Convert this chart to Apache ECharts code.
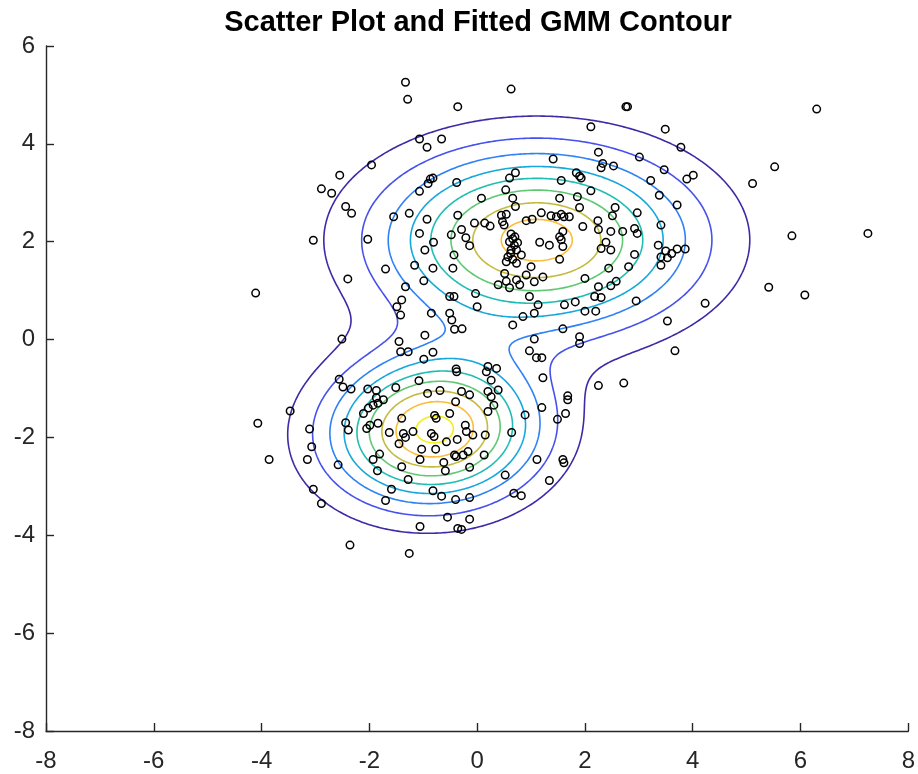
<!DOCTYPE html>
<html><head><meta charset="utf-8">
<script src="https://cdn.jsdelivr.net/npm/echarts/dist/echarts.min.js"></script>
<style>html,body{margin:0;padding:0;background:#fff}#chart{width:918px;height:774px}</style>
</head><body><div id="chart"></div>
<script>
const chartTitle = 'Scatter Plot and Fitted GMM Contour';
const xTickRange = [-8, 8, 2];
const yTickRange = [-8, 6, 2];

const pointsX = [
-1.33,-1.29,-0.36,-1.07,-0.66,-0.93,-1.96,-2.55,-2.89,-2.70,-2.44,-2.33,-0.87,-0.82,-0.91,-1.07,-0.38,-1.55,-1.26,-0.93,-1.07,-0.36,-0.48,-3.04,-2.03,
0.63,2.79,2.76,2.11,3.49,2.25,3.01,1.41,2.33,2.30,2.53,3.47,0.71,0.60,1.56,1.84,1.90,1.93,3.22,2.11,3.38,0.53,0.08,0.66,1.53,1.86,0.71,1.90,2.56,2.97,
0.45,0.54,1.19,1.37,1.56,1.61,1.71,2.24,2.51,-0.05,0.14,0.24,0.50,0.91,1.02,1.47,1.96,2.25,2.48,2.70,2.92,2.97,3.41,-0.29,0.63,1.59,-0.21,
6.30,3.78,5.52,5.11,4.01,3.89,3.71,5.84,7.25,
3.86,3.71,3.61,3.50,3.53,5.41,6.08,4.23,3.53,3.67,
-4.11,-2.40,-1.70,-2.51,-1.33,-1.40,-1.49,-1.42,-1.16,-0.99,-0.97,-0.81,-0.82,-0.43,-0.45,-0.51,-0.43,-0.51,-0.47,-0.42,-0.85,-0.97,-1.45,-1.42,-1.28,
-0.82,-0.99,-0.38,-2.56,-2.49,-2.34,-2.03,-1.87,-1.51,-1.08,-0.92,-0.69,-1.87,-1.74,-0.40,
-0.14,0.66,0.69,0.63,0.73,0.57,0.66,0.54,0.73,0.82,1.00,1.16,1.34,1.56,1.59,1.53,2.39,2.48,2.30,3.36,3.41,2.92,2.81,2.44,2.00,2.25,2.48,2.58,2.18,2.30,2.95,
0.51,0.39,0.54,0.60,0.73,0.79,0.91,1.06,1.22,0.97,1.13,1.06,0.85,0.66,1.62,1.82,2.00,2.20,-0.03,0.00,-0.28,1.59,1.90,1.90,1.06,0.97,1.10,1.20,1.22,1.68,2.25,2.72,
0.20,0.36,0.17,0.26,-0.29,0.20,0.39,0.26,
0.47,0.60,0.70,0.75,0.62,1.53,3.41,
-3.47,-4.07,-3.86,-3.11,-3.07,-3.15,-3.04,-2.89,-2.36,-1.26,-1.06,-0.55,-1.70,-1.59,-1.28,-1.40,-1.85,-2.58,-1.93,-1.81,-2.44,-2.39,-2.05,-1.99,-1.84,
-2.11,-2.02,-1.93,-1.84,-1.63,-1.40,-1.37,-1.33,-1.45,-1.19,-1.03,-1.06,-0.79,-0.76,-0.85,-0.80,-0.77,-0.57,-0.51,-0.37,-0.42,-0.62,-0.59,-0.82,-0.66,-0.40,-0.36,
0.31,0.20,1.20,0.89,1.64,1.49,1.68,-0.22,-0.20,-0.08,0.15,0.64,-0.17,-0.26,0.13,-0.39,-0.14,1.11,1.59,1.61,1.34,0.52,-0.14,0.68,0.82,-0.14,-0.29,
-0.39,-0.14
];
const pointsY = [
5.26,4.91,4.76,4.10,4.10,3.93,3.57,3.36,3.08,2.99,2.72,2.58,3.28,3.30,3.19,3.03,3.21,2.51,2.58,2.46,2.17,2.54,2.14,2.03,2.05,
5.12,4.76,4.76,4.35,4.30,3.83,3.73,3.69,3.60,3.51,3.55,3.47,3.41,3.30,3.25,3.41,3.34,3.30,3.25,3.04,2.95,3.06,2.89,2.89,2.89,2.92,2.72,2.70,2.70,2.59,
2.54,2.56,2.59,2.53,2.56,2.51,2.51,2.43,2.53,2.38,2.38,2.32,2.34,2.43,2.46,2.51,2.31,2.25,2.21,2.21,2.27,2.17,2.34,2.25,2.16,2.21,2.08,
4.71,3.93,3.53,3.19,3.36,3.28,2.75,2.12,2.17,
1.85,1.85,1.76,1.81,1.67,1.07,0.91,0.74,0.38,-0.23,
0.95,1.24,1.44,0.01,1.08,0.81,0.67,0.50,1.52,1.20,1.83,1.99,1.46,1.73,1.46,0.88,0.88,0.54,0.40,0.21,0.54,0.09,-0.04,-0.25,-0.25,
-0.26,-0.40,-0.66,-0.81,-0.97,-1.01,-1.01,-1.04,-0.98,-0.84,-1.10,-1.04,-1.19,-1.23,-1.27,
1.92,2.06,1.93,1.83,1.83,1.69,1.64,1.59,1.56,1.73,1.49,1.99,1.93,2.04,1.90,1.64,1.99,1.83,1.86,1.93,1.69,1.74,1.49,1.46,1.25,1.08,1.10,1.19,0.88,0.86,0.79,
1.35,1.12,1.19,1.06,1.22,1.12,1.32,1.18,1.28,0.88,0.71,0.54,0.47,0.30,0.71,0.77,0.58,0.58,0.94,0.67,0.22,0.22,0.06,-0.08,0.01,-0.23,-0.37,-0.37,-0.78,-1.15,-0.94,-0.89,
-0.55,-0.59,-0.66,-0.83,-1.06,-1.06,-1.03,-1.17,
2.41,2.00,2.10,1.98,1.76,2.10,1.52,
-1.46,-1.71,-2.45,-1.83,-2.19,-2.45,-3.06,-3.35,-4.20,-4.37,-3.82,-3.63,-3.29,-3.06,-2.86,-2.60,-2.68,-2.56,-2.45,-2.34,-1.70,-1.85,-1.82,-1.75,-1.71,
-1.51,-1.40,-1.34,-1.30,-1.90,-1.61,-1.92,-2.00,-2.13,-1.88,-2.24,-2.45,-1.55,-1.61,-1.92,-1.98,-2.24,-2.09,-1.51,-2.04,-2.36,-2.51,-2.68,-3.09,-3.20,-3.27,-3.86,
-1.34,-1.47,-1.39,-1.54,-1.51,-1.63,-1.23,-1.75,-1.88,-1.95,-1.95,-1.90,-2.29,-2.36,-2.36,-2.39,-2.61,-2.45,-2.45,-2.52,-2.88,-2.77,-3.23,-3.14,-3.19,-3.67,-3.88,
-0.60,-1.13
];

// Fitted two-component Gaussian mixture
const mixWeights = [0.624, 0.376];
const meanX = [1.107, -0.793];
const meanY = [2.035, -1.848];
const varX = [3.65, 1.66];
const varY = [1.50, 1.00];
const covXY = [0, 0.06];
const contourLevels = [0.005, 0.010, 0.015, 0.020, 0.025, 0.030, 0.035, 0.040, 0.045];

const levelColors = ['#3E2AA6', '#4651EE', '#2E82F6', '#16A8DC', '#20BDB2', '#5EC872', '#C4BC40', '#FABE3C', '#F5EE1A'];

function gmmPdf(x, y) {
  let s = 0;
  for (let k = 0; k < mixWeights.length; k++) {
    const dx = x - meanX[k], dy = y - meanY[k];
    const a = varX[k], b = covXY[k], c = varY[k];
    const det = a * c - b * b;
    const q = (c * dx * dx - 2 * b * dx * dy + a * dy * dy) / det;
    s += mixWeights[k] * Math.exp(-q / 2) / (2 * Math.PI * Math.sqrt(det));
  }
  return s;
}

// evaluation grid over the axes limits
const GX0 = xTickRange[0], GX1 = xTickRange[1], GY0 = yTickRange[0], GY1 = yTickRange[1], STEP = 0.04;
const nx = Math.round((GX1 - GX0) / STEP) + 1, ny = Math.round((GY1 - GY0) / STEP) + 1;
const gx = [], gy = [];
for (let i = 0; i < nx; i++) gx.push(GX0 + i * STEP);
for (let j = 0; j < ny; j++) gy.push(GY0 + j * STEP);
const F = new Float64Array(nx * ny);
for (let j = 0; j < ny; j++) for (let i = 0; i < nx; i++) F[j * nx + i] = gmmPdf(gx[i], gy[j]);

function traceLevel(L) {
  const pts = new Map(), adj = new Map();
  function ep(t, i, j) {
    const k = t + i + '_' + j;
    if (!pts.has(k)) {
      const a = F[j * nx + i];
      if (t === 'h') { const b = F[j * nx + i + 1]; const s = (L - a) / (b - a); pts.set(k, [gx[i] + s * STEP, gy[j]]); }
      else { const b = F[(j + 1) * nx + i]; const s = (L - a) / (b - a); pts.set(k, [gx[i], gy[j] + s * STEP]); }
    }
    return k;
  }
  function link(a, b) {
    if (!adj.has(a)) adj.set(a, []);
    if (!adj.has(b)) adj.set(b, []);
    adj.get(a).push(b); adj.get(b).push(a);
  }
  for (let j = 0; j < ny - 1; j++) {
    for (let i = 0; i < nx - 1; i++) {
      const v0 = F[j * nx + i], v1 = F[j * nx + i + 1], v2 = F[(j + 1) * nx + i + 1], v3 = F[(j + 1) * nx + i];
      const s0 = v0 >= L, s1 = v1 >= L, s2 = v2 >= L, s3 = v3 >= L;
      if (s0 === s1 && s1 === s2 && s2 === s3) continue;
      const e0 = s0 !== s1 ? ep('h', i, j) : null;
      const e1 = s1 !== s2 ? ep('v', i + 1, j) : null;
      const e2 = s2 !== s3 ? ep('h', i, j + 1) : null;
      const e3 = s3 !== s0 ? ep('v', i, j) : null;
      const list = [e0, e1, e2, e3].filter(e => e !== null);
      if (list.length === 2) link(list[0], list[1]);
      else if (list.length === 4) {
        const c = (v0 + v1 + v2 + v3) / 4;
        if ((c >= L) === s0) { link(e0, e1); link(e2, e3); }
        else { link(e3, e0); link(e1, e2); }
      }
    }
  }
  const visited = new Set(), lines = [];
  function walk(start) {
    const path = [start]; visited.add(start); let cur = start;
    while (true) {
      const nb = adj.get(cur).filter(n => !visited.has(n));
      if (!nb.length) break;
      cur = nb[0]; visited.add(cur); path.push(cur);
    }
    if (path.length > 2 && adj.get(cur).includes(start)) path.push(start);
    return path.map(k => pts.get(k));
  }
  for (const [k, nb] of adj) if (nb.length === 1 && !visited.has(k)) lines.push(walk(k));
  for (const k of adj.keys()) if (!visited.has(k)) lines.push(walk(k));
  return lines;
}

const FONT = '"Liberation Sans", Arial, Helvetica, sans-serif';
const contourSeries = contourLevels.map((L, idx) => ({
  type: 'lines',
  name: 'level ' + L,
  coordinateSystem: 'cartesian2d',
  polyline: true,
  silent: true,
  z: 2,
  lineStyle: { color: levelColors[idx], width: 1.6, opacity: 1 },
  data: traceLevel(L).map(c => ({ coords: c }))
}));

const chart = echarts.init(document.getElementById('chart'), null, { renderer: 'canvas' });
chart.setOption({
  animation: false,
  backgroundColor: '#ffffff',
  title: {
    text: chartTitle, left: 478, top: 8, textAlign: 'center', padding: 0,
    textStyle: { fontSize: 29, fontWeight: 'bold', color: '#000000', fontFamily: FONT }
  },
  grid: { left: 46, right: 8, top: 46, bottom: 43, containLabel: false },
  xAxis: {
    type: 'value', min: xTickRange[0], max: xTickRange[1], interval: xTickRange[2],
    axisLine: { show: true, onZero: false, lineStyle: { color: '#262626', width: 1.4 } },
    axisTick: { show: true, inside: true, length: 8, lineStyle: { color: '#262626', width: 1.4 } },
    axisLabel: { color: '#262626', fontSize: 24, fontFamily: FONT, margin: 18 },
    splitLine: { show: false }
  },
  yAxis: {
    type: 'value', min: yTickRange[0], max: yTickRange[1], interval: yTickRange[2],
    axisLine: { show: true, onZero: false, lineStyle: { color: '#262626', width: 1.4 } },
    axisTick: { show: true, inside: true, length: 8, lineStyle: { color: '#262626', width: 1.4 } },
    axisLabel: { color: '#262626', fontSize: 24, fontFamily: FONT, margin: 11 },
    splitLine: { show: false }
  },
  series: [
    {
      type: 'scatter', name: 'data', z: 3,
      data: pointsX.map((x, i) => [x, pointsY[i]]),
      symbol: 'circle', symbolSize: 7.5,
      itemStyle: { color: 'rgba(0,0,0,0)', borderColor: '#000000', borderWidth: 1.5, opacity: 1 }
    }
  ].concat(contourSeries)
});
</script>
</body></html>
